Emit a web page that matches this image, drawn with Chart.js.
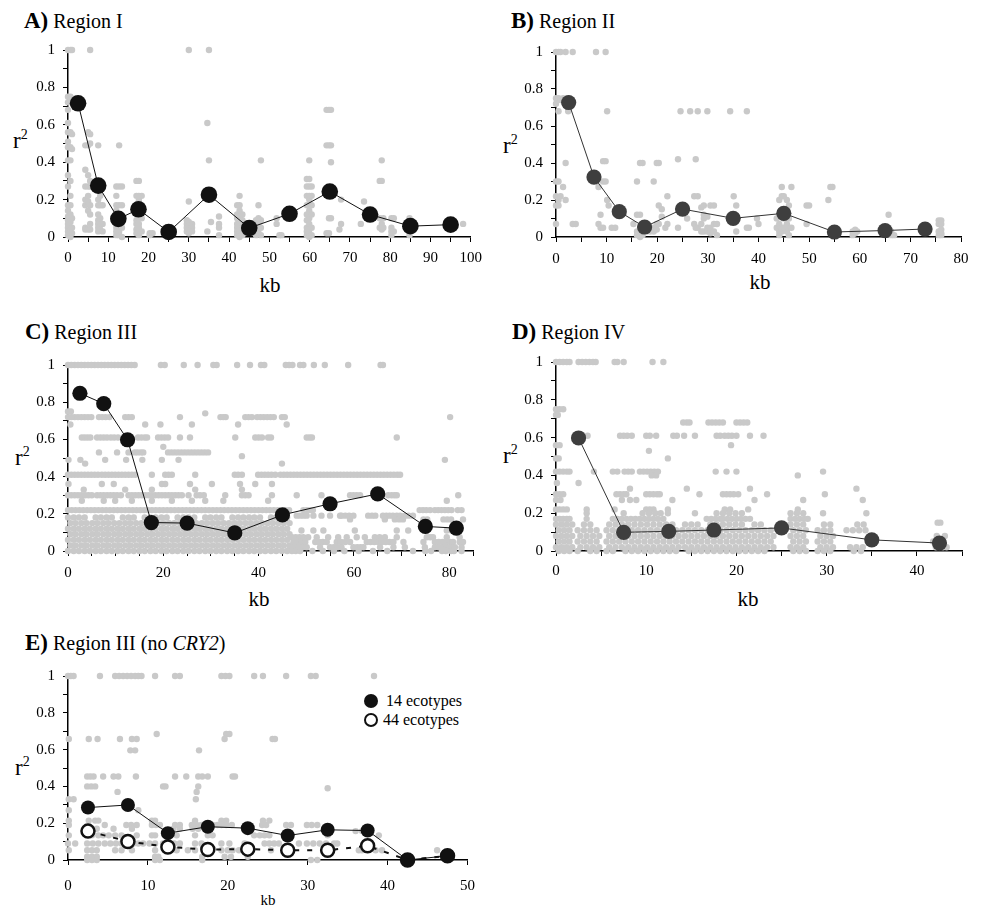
<!DOCTYPE html>
<html>
<head>
<meta charset="utf-8">
<script src="https://cdn.jsdelivr.net/npm/chart.js@4.4.1/dist/chart.umd.min.js"></script>
<style>
  html, body { margin: 0; padding: 0; background: #fff; }
  body { position: relative; width: 983px; height: 910px; overflow: hidden;
         font-family: "Liberation Serif", "DejaVu Serif", serif; color: #000; }
  canvas { position: absolute; }
  .title { position: absolute; font-size: 20px; line-height: 23px; white-space: nowrap; }
  .title b { font-size: 23px; }
  .ylab { position: absolute; font-size: 23px; line-height: 1; white-space: nowrap; }
  .ylab span { position: relative; top: -9px; font-size: 14px; }
  .xlab { position: absolute; font-size: 21px; line-height: 1; transform: translateX(-50%); white-space: nowrap; }
  .leg { position: absolute; font-size: 16px; line-height: 1; white-space: nowrap; }
  .mk { position: absolute; border-radius: 50%; box-sizing: border-box; }
</style>
</head>
<body>

<div class="title" style="left:24px;top:9px"><b>A)</b> Region I</div>
<div class="title" style="left:511px;top:9px"><b>B)</b> Region II</div>
<div class="title" style="left:25px;top:320px"><b>C)</b> Region III</div>
<div class="title" style="left:512px;top:320px"><b>D)</b> Region IV</div>
<div class="title" style="left:25px;top:631px"><b>E)</b> Region III (no <i>CRY2</i>)</div>

<div class="ylab" style="left:13px;top:129px">r<span>2</span></div>
<div class="ylab" style="left:503px;top:134px">r<span>2</span></div>
<div class="ylab" style="left:15px;top:446px">r<span>2</span></div>
<div class="ylab" style="left:503px;top:444px">r<span>2</span></div>
<div class="ylab" style="left:15px;top:756px">r<span>2</span></div>

<div class="xlab" style="left:270px;top:275px">kb</div>
<div class="xlab" style="left:760px;top:272px">kb</div>
<div class="xlab" style="left:259px;top:589px">kb</div>
<div class="xlab" style="left:748px;top:589px">kb</div>
<div class="xlab" style="left:268px;top:893px;font-size:15px">kb</div>

<div class="mk" style="left:364px;top:694px;width:14px;height:14px;background:#111"></div>
<div class="leg" style="left:386px;top:693px">14 ecotypes</div>
<div class="mk" style="left:364px;top:713px;width:14px;height:14px;border:2.5px solid #111;background:#fff"></div>
<div class="leg" style="left:383px;top:712px">44 ecotypes</div>

<script>
// ---- Binned mean r2 by distance (kb) ----
const kbA = [2.5, 7.5, 12.5, 17.5, 25, 35, 45, 55, 65, 75, 85, 95];
const r2A = [0.715, 0.275, 0.097, 0.148, 0.027, 0.226, 0.048, 0.124, 0.243, 0.12, 0.058, 0.066];

const kbB = [2.5, 7.5, 12.5, 17.5, 25, 35, 45, 55, 65, 72.9];
const r2B = [0.727, 0.324, 0.137, 0.054, 0.151, 0.101, 0.128, 0.027, 0.035, 0.043];

const kbC = [2.5, 7.5, 12.5, 17.5, 25, 35, 45, 55, 65, 75, 81.5];
const r2C = [0.848, 0.792, 0.598, 0.153, 0.150, 0.097, 0.194, 0.254, 0.307, 0.132, 0.123];

const kbD = [2.5, 7.5, 12.5, 17.5, 25, 35, 42.5];
const r2D = [0.598, 0.099, 0.104, 0.111, 0.122, 0.059, 0.042];

const kbE = [2.5, 7.5, 12.5, 17.5, 22.5, 27.5, 32.5, 37.5, 42.5, 47.5];
const r2E14 = [0.285, 0.299, 0.146, 0.181, 0.173, 0.133, 0.164, 0.160, 0, 0.023];
const r2E44 = [0.157, 0.101, 0.071, 0.057, 0.059, 0.053, 0.053, 0.077, 0, 0.023];

// ---- Pairwise r2 values; region I and II stored as [kb, [r2 ...]] columns ----
const pairsA = [
  [0.0, [1, 0.75, 0.72, 0.68, 0.61, 0.56, 0.51, 0.48, 0.41, 0.33, 0.27, 0.17, 0.14, 0.11, 0.09, 0.07, 0.05, 0.03, 0.01]],
  [0.6, [1, 0.75, 0.73, 0.56, 0.48, 0.41, 0.3, 0.22, 0.17, 0.12, 0.08, 0.04, 0.02, 0]],
  [1.0, [1, 0.74, 0.55, 0.47, 0.1, 0.05, 0.02]],
  [4.3, [0.49, 0.36, 0.27, 0.2, 0.17, 0.05, 0.04]],
  [5.0, [0.56, 0.49, 0.33, 0.27, 0.22, 0.19, 0.14, 0.04]],
  [5.5, [1, 0.55, 0.5, 0.3, 0.27, 0.17, 0.12, 0.07, 0.04]],
  [7.5, [0.49, 0.2, 0.17, 0.12, 0.09, 0.07, 0.05, 0.03]],
  [8.0, [0.22, 0.17, 0.1, 0.04]],
  [8.6, [0.17, 0.07, 0.03]],
  [12.0, [0.27, 0.22, 0.17, 0.14, 0.1, 0.07, 0.05, 0.03, 0.01]],
  [12.7, [0.49, 0.27, 0.17, 0.12, 0.07, 0.03, 0.01]],
  [13.4, [0.27, 0.17, 0.1, 0.05, 0]],
  [17.0, [0.3, 0.22, 0.17, 0.12, 0.09, 0.07, 0.04, 0.02]],
  [17.6, [0.3, 0.22, 0.2, 0.1, 0.07, 0.05, 0.03, 0.01]],
  [18.3, [0.22, 0.17, 0.1, 0.03]],
  [20.3, [0.02, 0.01]],
  [21.0, [0.02]],
  [29.5, [0.09, 0.07, 0.05, 0.03]],
  [30.0, [1, 0.19, 0.08, 0.06, 0.04, 0.02]],
  [30.8, [0.07, 0.05, 0.03]],
  [34.6, [0.61, 0.03]],
  [35.0, [1, 0.41, 0.2]],
  [35.5, [0.08, 0.2]],
  [37.5, [0.11, 0.07, 0.05, 0.01]],
  [42.0, [0.17, 0.12, 0.1, 0.07, 0.05, 0.03, 0.01]],
  [42.6, [0.22, 0.17, 0.14, 0.1, 0.08, 0.05, 0.02, 0]],
  [43.3, [0.12, 0.09, 0.05, 0.03, 0.01]],
  [46.7, [0.09, 0.05, 0.03, 0.01]],
  [47.3, [0.17, 0.1, 0.07, 0.04, 0.02]],
  [47.9, [0.41, 0.09, 0.05, 0.01]],
  [51.8, [0.1, 0.07]],
  [52.5, [0.01]],
  [53.0, [0.01]],
  [59.3, [0.31, 0.27, 0.22, 0.17, 0.12, 0.09, 0.05, 0.03, 0.01]],
  [59.9, [0.41, 0.31, 0.27, 0.22, 0.2, 0.17, 0.14, 0.1, 0.07, 0.04, 0.02, 0]],
  [60.5, [0.27, 0.22, 0.17, 0.12, 0.05, 0.01]],
  [64.2, [0.68, 0.49, 0.02]],
  [64.8, [0.68, 0.49, 0.1, 0.02]],
  [65.3, [0.68, 0.49, 0.4, 0.1]],
  [67.4, [0.04]],
  [67.8, [0.2, 0.07]],
  [72.7, [0.07]],
  [73.5, [0.19]],
  [77.4, [0.3, 0.1, 0.05]],
  [77.9, [0.41, 0.3, 0.07, 0.04]],
  [78.3, [0.1, 0.05]],
  [80.3, [0.1, 0.05, 0.03, 0.01]],
  [80.9, [0.1, 0.03]],
  [84.8, [0.1, 0.03, 0.01]],
  [98.1, [0.07]]
];

const pairsB = [
  [0.0, [1, 0.75, 0.72, 0.3, 0.22, 0.17, 0.07]],
  [0.5, [1, 0.75, 0.68, 0.3, 0.2, 0.17]],
  [0.9, [1, 0.74, 0.22]],
  [1.4, [0.75, 0.27]],
  [1.9, [1, 0.4, 0.2]],
  [2.4, [0.75, 0.68]],
  [3.3, [1, 0.07]],
  [3.9, [0.07]],
  [7.9, [1]],
  [8.4, [0.27, 0.07]],
  [8.8, [0.12, 0.05]],
  [9.3, [0.41, 0.3, 0.05]],
  [9.8, [1, 0.41, 0.3]],
  [10.1, [0.68, 0.2]],
  [10.4, [0.17]],
  [11.0, [0.05]],
  [11.7, [0.05]],
  [15.3, [0.07]],
  [16.0, [0.3, 0.12, 0.03, 0.01]],
  [16.6, [0.4, 0.12, 0.05, 0.02, 0]],
  [17.1, [0.4, 0.03, 0.01]],
  [18.6, [0.03]],
  [19.3, [0.3, 0.05, 0.03]],
  [19.9, [0.4, 0.07, 0.04]],
  [20.3, [0.4, 0.17, 0.07]],
  [20.9, [0.15, 0.11]],
  [21.6, [0.05]],
  [22.0, [0.22, 0.07]],
  [24.1, [0.42, 0.05]],
  [24.6, [0.68]],
  [25.9, [0.1]],
  [26.5, [0.68]],
  [27.3, [0.22, 0.07]],
  [27.6, [0.42, 0.05]],
  [28.0, [0.68, 0.22, 0.05]],
  [28.7, [0.16, 0.07, 0.03]],
  [29.2, [0.17, 0.12, 0.1, 0.03]],
  [29.9, [0.68, 0.11, 0.05, 0.03]],
  [30.5, [0.17, 0.05, 0.02]],
  [31.2, [0.17, 0.07, 0.03]],
  [31.8, [0.07, 0.01]],
  [34.4, [0.68]],
  [35.1, [0.22]],
  [35.6, [0.17, 0.03]],
  [37.7, [0.68, 0.05]],
  [38.1, [0.05]],
  [39.7, [0.1]],
  [40.0, [0.07]],
  [43.6, [0.1, 0.05]],
  [44.1, [0.2, 0.07, 0.03, 0.01]],
  [44.6, [0.27, 0.22, 0.05, 0.03]],
  [45.0, [0.22, 0.1, 0.05]],
  [45.6, [0.2, 0.07, 0.03]],
  [46.0, [0.17, 0.1, 0.05, 0.01]],
  [46.5, [0.27, 0.05]],
  [49.5, [0.17, 0.07]],
  [50.0, [0.17]],
  [53.8, [0.2]],
  [54.2, [0.27]],
  [54.6, [0.27]],
  [55.5, [0.01]],
  [58.6, [0.03, 0.01]],
  [59.1, [0.04, 0.02]],
  [59.5, [0.03]],
  [65.7, [0.12]],
  [66.2, [0.03, 0.01]],
  [66.8, [0.01]],
  [75.6, [0.09, 0.07, 0.03, 0.01]],
  [76.1, [0.09, 0.07, 0.04, 0.02, 0.01]]
];

// ---- Regions III, IV and III (no CRY2) stored as [r2, [kb ...]] rows ----
const pairsC = [
  [1.00, [0,0.7,1.4,2.1,2.8,3.5,4.2,4.9,5.6,6.3,7,7.7,8.4,9.1,9.8,10.5,11.2,11.9,12.6,13.3,14,19.5,20.3,24.3,27.2,30.5,31.2,35.5,38.2,40.5,41.2,45.7,46.4,47.1,48.7,49.4,51.6,53.9,58.8,65.6,66.1]],
  [0.75, [0, 0.6]],
  [0.74, [28.8]],
  [0.72, [0,0.7,1.4,2.1,2.8,3.5,4.2,4.9,6.5,7.2,7.9,8.7,12,12.7,13.4,23.5,32,32.6,33.1,37.2,37.9,38.6,39.7,40.4,41.1,41.8,42.5,43.2,44.9,45.5,80.2]],
  [0.68, [0.5,16.2,19.4,26,35.7,45.9]],
  [0.61, [2.9,3.5,4.1,4.7,6.1,6.8,7.5,8.2,9,9.7,10.5,12.4,13.1,14.7,15.4,16.1,16.6,18.9,19.6,20.3,21,23.5,25.6,35.1,39.3,40,40.7,42,42.6,50.1,50.7,51.2,69]],
  [0.56, [20]],
  [0.53, [6.5,10.3,12.7,14,14.6,15.3,15.8,21,21.7,22.4,23.1,23.8,24.5,25.2,25.9,26.6,27.3,28,28.7,29.4]],
  [0.51, [36.5]],
  [0.49, [0.1,2.6,7.8,12.2,15.6,19.7,23.2,79.1]],
  [0.47, [3.6,44.9]],
  [0.41, [0,0.7,1.4,2.1,2.8,3.5,4.2,4.9,5.6,6.3,7.1,7.8,8.5,9.2,9.9,10.6,11.3,12,12.7,13.4,14.1,17.6,20.4,21.1,21.8,26.7,35,35.7,36.5,39.9,40.6,41.3,42,42.7,43.5,44.6,45.3,46,46.7,47.4,48.1,48.8,49.5,50.2,50.9,51.6,52.3,53,53.7,54.4,55.1,55.8,56.5,57.2,57.9,58.6,59.3,60,60.7,61.4,62.1,62.8,63.5,64.2,64.9,65.6,66.3,67,67.7,68.4,69.1,69.7]],
  [0.36, [0.1,7.1,9.6,19.7,20.4,25.6,30.2,36.1,39.3,42.8]],
  [0.33, [3.3,12,17.6,26.7,36.5]],
  [0.30, [0,0.7,1.4,2.1,2.8,3.6,4.3,5,6.1,6.8,7.5,8.2,8.9,9.6,10.3,11.1,12.7,13.4,14.1,14.8,15.5,16.2,16.9,17.6,18.3,19,19.7,20.4,21.1,21.8,22.5,23.2,23.9,25.3,27,27.7,28.5,33,36.5,37.2,37.9,42.8,48,53.2,59.2,59.9,60.6,61.3,67.2,67.9,68.5,69,81.9]],
  [0.27, [2.9,7.5,9.9,13.4,17.6,21.8,26,28.8,32.6,42,79.5]],
  [0.22, [0,0.8,1.6,2.4,3.2,4,4.8,5.6,6.4,7.2,8,8.8,9.6,10.4,11.2,12,12.8,13.6,14.4,15.2,16,16.8,17.6,18.4,19.2,20,20.8,21.6,22.4,23.2,24,24.8,25.6,26.4,27.2,28,28.8,29.6,30.4,31.2,32,32.8,33.6,34.4,35.2,36,36.8,37.6,38.4,39.2,40,40.8,41.6,42.4,43.2,44,45.6,46.4,49.4,50.1,50.8,51.4,73.8,74.5,75.2,76,77,77.7,78.4,79.1,79.8,80.5,81.8,82.6]],
  [0.19, [48,48.7,49.4,50.1,51.5,53.2,55,57.1,57.4,58.2,59,59.9,63,63.8,64.5,66.1,66.8,67.5,68.2,69,69.7,70.7,71.5,72.4]],
  [0.18, [0,1.2,2.3,3.5,5.8,6.9,8.1,9.2,11.5,12.7,13.8,16.1,17.3,18.4,19.6,20.7,23,24.2,25.3,26.5,28.8,29.9,31.1,32.2,34.5,35.7,36.8,38,39.1,40.3,42.6,43.7,44.9,46]],
  [0.17, [59.2,66.5,68.6,69.5,70.3,74.6,75.4,78.8,79.6,80.4,82.9]],
  [0.15, [0.5,1.6,2.8,3.9,5.1,6.2,7.4,8.5,9.7,10.8,12,13.1,14.3,15.4,16.6,17.7,18.9,20,21.2,22.3,23.5,24.6,25.8,26.9,28.1,29.2,30.4,31.5,32.7,33.8,35,36.1,37.3,38.4,39.6,40.7,41.9,43,44.2,45.3,46.5]],
  [0.12, [0,1.2,2.3,3.5,4.6,5.8,6.9,8.1,9.2,10.4,11.5,12.7,13.8,15,16.1,17.3,18.4,19.6,20.7,21.9,23,24.2,25.3,26.5,27.6,28.8,29.9,31.1,32.2,33.4,34.5,35.7,36.8,38,39.1,40.3,41.4,42.6,43.7,44.9,46]],
  [0.11, [49,51.5,53.6,60.2,69,71.4,75.3,79.5,80.5]],
  [0.09, [0.5,1.6,2.8,3.9,5.1,6.2,7.4,8.5,9.7,10.8,12,13.1,14.3,15.4,16.6,17.7,18.9,20,21.2,22.3,23.5,24.6,25.8,26.9,28.1,29.2,30.4,31.5,32.7,33.8,35,36.1,37.3,38.4,39.6,40.7,41.9,43,44.2,45.3,46.5]],
  [0.074, [47,47.8,48.6,49.4,50.4,52.2,54.6,56.7,58.5,60.6,62.3,64.4,65.4,66.5,69,75.3,76,76.6,79.5,82.2]],
  [0.06, [0,1.2,2.3,3.5,4.6,5.8,6.9,8.1,9.2,10.4,11.5,12.7,13.8,15,16.1,17.3,18.4,19.6,20.7,21.9,23,24.2,25.3,26.5,27.6,28.8,29.9,31.1,32.2,33.4,34.5,35.7,36.8,38,39.1,40.3,41.4,42.6,43.7,44.9,46]],
  [0.048, [47.3,48.2,49,49.8,51.9,52.7,53.5,54.3,56.4,57.3,58.2,59.2,62.7,63.5,64.3,65.1,65.9,66.7,67.5,68.3,70.4,74.6,77,77.8,78.6,79.4,80.2,80.8,82.2,82.9]],
  [0.03, [0.5,1.6,2.8,3.9,5.1,6.2,7.4,8.5,9.7,10.8,12,13.1,14.3,15.4,16.6,17.7,18.9,20,21.2,22.3,23.5,24.6,25.8,26.9,28.1,29.2,30.4,31.5,32.7,33.8,35,36.1,37.3,38.4,39.6,40.7,41.9,43,44.2,45.3,46.5]],
  [0.02, [46.9,47.7,48.5,49.3,50.1,52.9,55,55.8,56.6,57.4,59.9,60.7,61.4,62,65.5,68.3,70.7,74.9,77,77.8,78.6,79.4,80.2,81.2,82.6]],
  [0.00, [0,1.2,2.3,3.5,4.6,5.8,6.9,8.1,9.2,10.4,11.5,12.7,13.8,15,16.1,17.3,18.4,19.6,20.7,21.9,23,24.2,25.3,26.5,27.6,28.8,29.9,31.1,32.2,33.4,34.5,35.7,36.8,38,39.1,40.3,41.4,42.6,43.7,44.9,46,47,47.8,48.7,51.3,53.5,55.8,58,61,64,67,72.4,75,76.2,78.5,79.3,80.4,81,82.6]]
];

const pairsD = [
  [1.00, [0,0.4,0.8,1.2,1.5,2.5,2.9,3.3,3.7,4.1,4.4,6.5,6.8,7.5,10.7,11.9]],
  [0.75, [0,0.4,0.8]],
  [0.72, [0,0.2]],
  [0.68, [14.1,14.5,14.8,16.9,17.3,17.7,18.1,18.5,20,20.4,20.8,21.2]],
  [0.61, [3.5,7.1,7.5,7.9,8.4,10,10.4,11.1,13,13.4,14.2,15.4,17.8,18.2,18.7,19.1,19.5,20,21.5,23]],
  [0.56, [0,0.4,19.4]],
  [0.53, [10.3]],
  [0.49, [0,0.3,12.4]],
  [0.42, [0,0.4,0.8,1.2,1.5,4.2,6.3,6.8,7.6,8,8.4,9.3,9.7,10.1,10.5,10.9,11.3,17.7,18.9,20,29.6]],
  [0.40, [10.6,11.1,26.8]],
  [0.36, [0.1,2.5]],
  [0.33, [8.2,14.5,21.5,33.3]],
  [0.30, [0,0.4,0.8,6.7,7.1,7.5,7.8,10,10.4,10.8,11.2,11.5,15.9,18.5,18.9,19.3,19.7,20.2,23.4,29.8]],
  [0.27, [0,0.5,7.3,8.2,8.9,12.9,22,27.4,34]],
  [0.22, [0,0.4,0.8,1.2,3.4,6.5,10,10.4,10.8,12.4,18.7,19.3,21.3,26.8]],
  [0.20, [3.4,7.5,9.6,10.3,11,11.6,12.4,15.4,17.8,18.5,19.2,19.9,20.6,26,26.7,27.4,29.6,34.4]],
  [0.17, [0,0.4,0.8,1.2,1.5,3.4,6.3,6.8,7.3,7.8,8.3,8.8,9.3,9.8,10.3,10.8,11.3,11.9,16.7,17.2,17.7,18.2,18.5,19,19.5,20,20.5,21,21.5,26,26.5,27,27.5,27.9]],
  [0.15, [42.3,42.6]],
  [0.14, [0,0.6,1.2,1.8,3.1,3.8,5.9,6.6,7.3,8,8.7,9.4,10.1,10.8,11.5,12.2,12.9,14.3,15,15.7,17.1,17.8,18.5,19.2,19.9,20.6,22,22.7,26,26.7,27.4,29.7,30.4,33.4,34.1]],
  [0.11, [0.3,0.9,1.5,2.4,3.1,3.8,4.5,5.6,6.3,7,7.7,8.4,9.1,9.8,10.5,11.2,11.9,12.6,13.3,14,14.7,15.4,16.1,16.8,17.5,18.2,18.9,19.6,20.3,21,21.7,22.4,23.1,23.8,26.3,27,27.7,29,29.7,30.4,32.2,32.9,33.6,34.3]],
  [0.08, [0,0.6,1.2,1.8,2.7,3.4,4.1,4.8,5.9,6.6,7.3,8,8.7,9.4,10.1,10.8,11.5,12.2,12.9,13.6,14.3,15,15.7,16.4,17.1,17.8,18.5,19.2,19.9,20.6,21.3,22,22.7,23.4,24.1,26,26.7,27.4,29.3,30,30.7,42.2,43.1]],
  [0.05, [0.3,0.9,1.5,2.4,3.1,3.8,4.5,5.6,6.3,7,7.7,8.4,9.1,9.8,10.5,11.2,11.9,12.6,13.3,14,14.7,15.4,16.1,16.8,17.5,18.2,18.9,19.6,20.3,21,21.7,22.4,23.1,23.8,26.3,27,27.7,29,29.7,30.4,41.8,42.6]],
  [0.02, [0,0.6,1.2,1.8,2.7,3.4,4.1,4.8,5.9,6.6,7.3,8,8.7,9.4,10.1,10.8,11.5,12.2,12.9,13.6,14.3,15,15.7,16.4,17.1,17.8,18.5,19.2,19.9,20.6,21.3,22,22.7,23.4,24.1,26,26.7,27.4,29.3,30,30.7,32.6,33.3,34,42.1,42.9,43.3]],
  [0.00, [0.3,0.9,1.5,2.4,3.8,4.5,5.6,6.3,7.7,8.4,9.1,9.8,10.5,11.2,11.9,12.6,13.3,14.7,15.4,16.1,16.8,17.5,18.2,18.9,19.6,20.3,21,21.7,22.4,23.1,26.3,27,27.7,29,29.7,30.4,33,33.8]]
];

const pairsE = [
  [1.00, [0,0.35,0.7,4,5.9,6.4,6.9,7.4,7.9,8.4,8.8,9.2,10.9,13.4,14,19.2,19.7,20.2,23.3,24.4,27.3,30.4,31,38.3]],
  [0.685, [11.1,19.8,20.2]],
  [0.658, [0.1,2.6,3.7,6.5,8,8.6,19.6,25.6,25.9]],
  [0.596, [7.8,8.4,16.4]],
  [0.454, [2.4,2.8,3.2,4.4,5.7,6.3,8.5,13.4,14.8,16.3,16.8,17.5,20.6,20.9]],
  [0.40, [2.4,2.9,3.4,11.9,12.2,16.3]],
  [0.39, [32.5]],
  [0.37, [6.2,16.1]],
  [0.33, [0.1,0.7,16]],
  [0.27, [0.1,8.8]],
  [0.214, [0.1,2.6,3.4,3.8,10.5,10.9,15.9,19.2,19.8,24.4,25.2]],
  [0.19, [0.1,4.6,7.3,7.9,8.6,10.5,11,11.5,13.4,14,15.5,16.1,16.7,18.1,18.7,19.2,19.8,20.5,24.3,24.8,27.3,27.9,29.9,30.5,31.2]],
  [0.17, [2.4,3,3.6,5.7,8,13.2,14,15.6,16.3]],
  [0.157, [36,36.8,37.6]],
  [0.134, [0.1,3,3.8,4.4,5.1,5.9,6.7,8.6,10.5,10.9,13.6,15.9,17.5,18.1,23.3,24,24.6,25.2,32.5,38.9]],
  [0.09, [0,0.9,2.4,3.1,3.8,4.6,5.3,6,6.7,8.2,8.8,9.4,10.2,10.9,11.9,12.6,13.3,14,15.9,16.7,19.2,20.2,22.1,24.6,25.2,25.8,26.4,28.9,29.9,30.7,31.5,32.3,33.3,33.7]],
  [0.053, [0.1,2.4,3,3.6,5.9,6.7,8,10.9,12.5,13.6,15,15.9,19.2,20,20.6,21.4,22.1,25.4,36.4,36.8,38.5,39.3,46.2]],
  [0.018, [2.4,3,3.6,10.9,11.3,16.8,19.6,20.4,22.5]],
  [0.00, [2.4,3,3.6,10.9,11.5,16.8,30.4,31.2]]
];

// ---- helpers that turn the stored values into point lists ----
const fromCols = arr => arr.flatMap(([x, ys]) => ys.map(y => ({ x, y })));
const fromRows = arr => arr.flatMap(([y, xs]) => xs.map(x => ({ x, y })));
const pairUp = (xs, ys) => xs.map((x, i) => ({ x, y: ys[i] }));

const FONT = '"Liberation Serif", "DejaVu Serif", serif';
const GREY = '#c9c9c9';

function greySet(points) {
  return { data: points, showLine: false, pointRadius: 3.2, pointBackgroundColor: GREY,
           pointBorderWidth: 0, borderWidth: 0, clip: false };
}
function meanSet(points, fill, r, lineColor) {
  return { data: points, showLine: true, borderColor: lineColor, borderWidth: 1,
           pointRadius: r, pointBackgroundColor: fill, pointBorderColor: fill,
           pointBorderWidth: 0, clip: false, tension: 0 };
}

// Fixed axis gutters so each plot area lands at a known place on the page
const YW = 62, PT = 14, PR = 18, XH = 40;

function panel(cfg) {
  const { l, t, r, b } = cfg.area;
  const W = r - l + YW + PR, H = b - t + PT + XH;
  const c = document.createElement('canvas');
  c.width = W; c.height = H;
  c.style.left = (l - YW) + 'px'; c.style.top = (t - PT) + 'px';
  c.style.width = W + 'px'; c.style.height = H + 'px';
  document.body.appendChild(c);

  const axisGrid = { display: true, drawOnChartArea: false, drawTicks: true, tickLength: 5,
                     color: '#000', tickColor: '#000', lineWidth: 1 };
  const axisBorder = { display: true, color: '#000', width: 1.5 };

  new Chart(c, {
    type: 'scatter',
    data: { datasets: cfg.datasets },
    options: {
      responsive: false, animation: false, events: [],
      layout: { padding: { top: PT, right: PR, left: 0, bottom: 0 } },
      plugins: { legend: { display: false }, tooltip: { enabled: false } },
      scales: {
        x: {
          type: 'linear', position: 'bottom', min: 0, max: cfg.xMax,
          afterFit: s => { s.height = XH; },
          grid: axisGrid, border: axisBorder,
          ticks: {
            stepSize: cfg.xStep, autoSkip: false, maxRotation: 0, minRotation: 0,
            padding: cfg.xPad, color: '#000', font: { family: FONT, size: 15 },
            callback: v => (Math.round(v) % cfg.xEvery === 0 ? String(Math.round(v)) : '')
          }
        },
        y: {
          type: 'linear', position: 'left', min: 0, max: 1,
          afterFit: s => { s.width = YW; },
          grid: axisGrid, border: axisBorder,
          ticks: {
            stepSize: 0.1, autoSkip: false, padding: 8, color: '#000',
            font: { family: FONT, size: 15 },
            callback: v => {
              const k = Math.round(v * 10);
              return k % 2 === 0 ? String(k / 10) : '';
            }
          }
        }
      }
    }
  });
}

panel({
  area: { l: 68, t: 47, r: 471, b: 237 }, xMax: 100, xStep: 5, xEvery: 10, xPad: 7,
  datasets: [ meanSet(pairUp(kbA, r2A), '#111', 8.3, '#111'), greySet(fromCols(pairsA)) ]
});
panel({
  area: { l: 556, t: 49, r: 961, b: 237 }, xMax: 80, xStep: 5, xEvery: 10, xPad: 8,
  datasets: [ meanSet(pairUp(kbB, r2B), '#3e3e3e', 7.6, '#333') , greySet(fromCols(pairsB)) ]
});
panel({
  area: { l: 68, t: 362, r: 473, b: 551 }, xMax: 85, xStep: 5, xEvery: 20, xPad: 8,
  datasets: [ meanSet(pairUp(kbC, r2C), '#111', 7.6, '#111'), greySet(fromRows(pairsC)) ]
});
panel({
  area: { l: 556, t: 359, r: 962, b: 551 }, xMax: 45, xStep: 5, xEvery: 10, xPad: 6,
  datasets: [ meanSet(pairUp(kbD, r2D), '#3e3e3e', 7.6, '#333'), greySet(fromRows(pairsD)) ]
});

const open44 = {
  data: pairUp(kbE, r2E44), showLine: true, borderColor: '#111', borderWidth: 2,
  borderDash: [5, 8], pointRadius: 6.5, pointBackgroundColor: '#fff',
  pointBorderColor: '#111', pointBorderWidth: 2.5, clip: false, tension: 0
};
panel({
  area: { l: 68, t: 673, r: 469, b: 860 }, xMax: 50, xStep: 10, xEvery: 10, xPad: 12,
  datasets: [ meanSet(pairUp(kbE, r2E14), '#111', 7, '#111'), open44, greySet(fromRows(pairsE)) ]
});
</script>
</body>
</html>
